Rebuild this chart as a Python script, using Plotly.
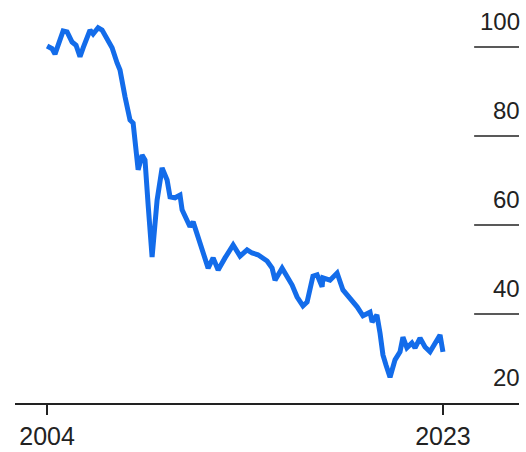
import plotly.graph_objects as go

# decimal years
years = [2004.00, 2004.24, 2004.38, 2004.58, 2004.77, 2004.96, 2005.20, 2005.39, 2005.58, 2005.73,
         2006.06, 2006.21, 2006.45, 2006.64, 2006.88, 2007.12, 2007.36, 2007.50, 2007.74, 2007.98,
         2008.13, 2008.22, 2008.32, 2008.37, 2008.56, 2008.70, 2008.85, 2009.04, 2009.28, 2009.52,
         2009.76, 2009.90, 2010.14, 2010.38, 2010.48, 2010.86, 2011.01, 2011.25, 2011.49, 2011.73,
         2011.97, 2012.21, 2012.54, 2012.93, 2013.26, 2013.60, 2013.84, 2014.12, 2014.56, 2014.80,
         2014.94, 2015.28, 2015.76, 2016.00, 2016.28, 2016.48, 2016.76, 2016.96, 2017.20, 2017.24,
         2017.58, 2017.92, 2018.20, 2018.54, 2018.88, 2019.16, 2019.50, 2019.60, 2019.83, 2019.98,
         2020.12, 2020.27, 2020.46, 2020.70, 2020.94, 2021.08, 2021.27, 2021.51, 2021.66, 2021.90,
         2022.14, 2022.38, 2022.62, 2022.86, 2023.00]
values = [100.2, 99.6, 98.4, 101.1, 103.6, 103.4, 101.1, 100.4, 97.8, 99.8,
          103.8, 102.9, 104.3, 103.8, 101.8, 99.8, 96.4, 94.8, 88.8, 83.6,
          82.9, 79.1, 76.2, 72.4, 75.7, 74.6, 64.5, 52.8, 65.6, 72.8,
          70.1, 66.3, 66.1, 66.7, 63.4, 59.6, 60.7, 57.3, 53.3, 50.3,
          52.6, 49.9, 52.6, 55.5, 53.0, 54.4, 53.7, 53.3, 51.9, 50.3,
          47.6, 50.3, 46.5, 43.8, 41.8, 42.7, 48.5, 48.8, 46.1, 48.1,
          47.6, 49.2, 45.4, 43.6, 41.6, 39.6, 40.4, 38.2, 39.8, 35.7,
          30.8, 28.5, 25.8, 29.7, 31.5, 34.8, 32.4, 33.5, 32.4, 34.6,
          32.6, 31.5, 33.7, 35.3, 31.5]

x_ticks = [2004, 2023]
x_tick_labels = ["2004", "2023"]
y_ticks = [20, 40, 60, 80, 100]
y_tick_labels = ["20", "40", "60", "80", "100"]

FONT = "Liberation Sans, Arial, sans-serif"
INK = "#222222"

fig = go.Figure()
fig.add_trace(go.Scatter(x=years, y=values, mode="lines",
                         line=dict(color="#136cea", width=5, shape="linear"),
                         hoverinfo="skip", showlegend=False))

shapes = []
annotations = []
for v, lab in zip(y_ticks, y_tick_labels):
    if v != y_ticks[0]:
        shapes.append(dict(type="line", xref="paper", yref="y", x0=0.911, x1=1.0,
                           y0=v, y1=v, line=dict(color=INK, width=1.5)))
    annotations.append(dict(xref="paper", yref="y", x=1.0, y=v, text=lab,
                            showarrow=False, xanchor="right", yanchor="bottom",
                            yshift=10, xshift=3, font=dict(family=FONT, size=24, color=INK)))

fig.update_layout(
    width=526, height=452,
    margin=dict(l=15, r=7, t=10, b=49),
    paper_bgcolor="white", plot_bgcolor="white",
    shapes=shapes, annotations=annotations,
    xaxis=dict(range=[2002.46, 2026.65], tickvals=x_ticks, ticktext=x_tick_labels,
               showgrid=False, zeroline=False, showline=True, linecolor=INK, linewidth=1.5,
               ticks="outside", ticklen=10, tickwidth=1.5, tickcolor=INK, automargin=False,
               tickfont=dict(family=FONT, size=25, color=INK), ticklabelstandoff=0),
    yaxis=dict(range=[20, 108.3], showgrid=False, zeroline=False, showticklabels=False,
               showline=False, automargin=False),
)

fig.write_html("out.html")
